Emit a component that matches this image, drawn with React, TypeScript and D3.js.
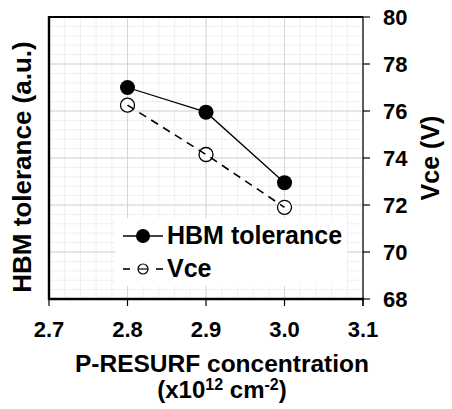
import React from "react";
import * as d3 from "d3";

const concentrations = [2.8, 2.9, 3.0];
const hbmTolerance = [77.0, 75.95, 72.95];
const vceValues = [76.25, 74.15, 71.9];
const xTicks = [2.7, 2.8, 2.9, 3.0, 3.1];
const yTicks = [68, 70, 72, 74, 76, 78, 80];
const legendLabels = ["HBM tolerance", "Vce"];

const W = 452;
const H = 409;
const left = 49;
const right = 363;
const top = 17;
const bottom = 299;
const FONT = "'Liberation Sans', Arial, sans-serif";

export default function App() {
  const x = d3.scaleLinear().domain([2.7, 3.1]).range([left, right]);
  const y = d3.scaleLinear().domain([68, 80]).range([bottom, top]);
  const xMinor = d3.range(2.7, 3.1001, 0.02);
  const yMinor = d3.range(68, 80.001, 0.4);

  const line = d3
    .line<number>()
    .x((_, i) => x(concentrations[i]))
    .y((d) => y(d));

  const lx = 116, ly = 218, lw = 231, lh = 68;

  return (
    <div style={{ position: "absolute", left: 0, top: 0 }}>
      <svg width={W} height={H} style={{ display: "block" }}>
        <rect x={0} y={0} width={W} height={H} fill="#fff" />
        {xMinor.map((v, i) => (
          <line key={"xm" + i} x1={x(v)} x2={x(v)} y1={top} y2={bottom} stroke="#efefef" strokeWidth={1} />
        ))}
        {yMinor.map((v, i) => (
          <line key={"ym" + i} x1={left} x2={right} y1={y(v)} y2={y(v)} stroke="#efefef" strokeWidth={1} />
        ))}
        {xTicks.map((v, i) => (
          <line key={"xg" + i} x1={x(v)} x2={x(v)} y1={top} y2={bottom} stroke="#d6d6d6" strokeWidth={1} />
        ))}
        {yTicks.map((v, i) => (
          <line key={"yg" + i} x1={left} x2={right} y1={y(v)} y2={y(v)} stroke="#d6d6d6" strokeWidth={1} />
        ))}
        <path d={line(hbmTolerance) || ""} fill="none" stroke="#000" strokeWidth={1.3} />
        {vceValues.map((v, i) => (
          <circle key={"vc" + i} cx={x(concentrations[i])} cy={y(v)} r={7} fill="#fff" stroke="#000" strokeWidth={1.3} />
        ))}
        <path d={line(vceValues) || ""} fill="none" stroke="#000" strokeWidth={1.6} strokeDasharray="8,6" />
        {hbmTolerance.map((v, i) => (
          <circle key={"hc" + i} cx={x(concentrations[i])} cy={y(v)} r={7.5} fill="#000" />
        ))}
        <rect x={lx} y={ly} width={lw} height={lh} fill="#fff" />
        <line x1={lx + 7} x2={lx + 47} y1={ly + 18} y2={ly + 18} stroke="#000" strokeWidth={1.3} />
        <circle cx={lx + 27} cy={ly + 18} r={7} fill="#000" />
        <text x={lx + 51} y={ly + 26} fontFamily={FONT} fontWeight="bold" fontSize={25}>{legendLabels[0]}</text>
        <line x1={lx + 7} x2={lx + 14} y1={ly + 51} y2={ly + 51} stroke="#000" strokeWidth={1.6} />
        <line x1={lx + 40} x2={lx + 47} y1={ly + 51} y2={ly + 51} stroke="#000" strokeWidth={1.6} />
        <circle cx={lx + 27} cy={ly + 51} r={5} fill="#fff" stroke="#000" strokeWidth={1.2} />
        <line x1={lx + 22} x2={lx + 32} y1={ly + 51} y2={ly + 51} stroke="#000" strokeWidth={1.2} />
        <text x={lx + 51} y={ly + 59} fontFamily={FONT} fontWeight="bold" fontSize={25}>{legendLabels[1]}</text>
        <line x1={right} x2={right} y1={top} y2={bottom + 7} stroke="#000" strokeWidth={1.2} />
        <line x1={left} x2={right} y1={top} y2={top} stroke="#000" strokeWidth={2.2} />
        <line x1={left} x2={left} y1={top - 1} y2={bottom + 1} stroke="#000" strokeWidth={2.4} />
        <line x1={left - 1} x2={right + 1} y1={bottom} y2={bottom} stroke="#000" strokeWidth={2.4} />
        {xTicks.map((v, i) => (
          <g key={"xt" + i}>
            <line x1={x(v)} x2={x(v)} y1={bottom} y2={bottom + 7} stroke="#000" strokeWidth={1.2} />
            <text x={x(v)} y={337} textAnchor="middle" fontFamily={FONT} fontWeight="bold" fontSize={22}>
              {v.toFixed(1)}
            </text>
          </g>
        ))}
        {yTicks.map((v, i) => (
          <g key={"yt" + i}>
            <line x1={right} x2={right + 7} y1={y(v)} y2={y(v)} stroke="#000" strokeWidth={1.2} />
            <text x={383} y={y(v) + 8} fontFamily={FONT} fontWeight="bold" fontSize={22}>
              {v}
            </text>
          </g>
        ))}
        <text x={222} y={372} textAnchor="middle" fontFamily={FONT} fontWeight="bold" fontSize={24.5}>
          P-RESURF concentration
        </text>
        <text x={222} y={398} textAnchor="middle" fontFamily={FONT} fontWeight="bold" fontSize={24}>
          (x10<tspan fontSize={16} dy={-8}>12</tspan>
          <tspan dy={8}> cm</tspan>
          <tspan fontSize={16} dy={-8}>-2</tspan>
          <tspan dy={8}>)</tspan>
        </text>
        <text transform={`translate(31,167) rotate(-90)`} textAnchor="middle" fontFamily={FONT} fontWeight="bold" fontSize={26}>
          HBM tolerance (a.u.)
        </text>
        <text transform={`translate(439,158) rotate(-90)`} textAnchor="middle" fontFamily={FONT} fontWeight="bold" fontSize={25}>
          Vce (V)
        </text>
      </svg>
    </div>
  );
}
